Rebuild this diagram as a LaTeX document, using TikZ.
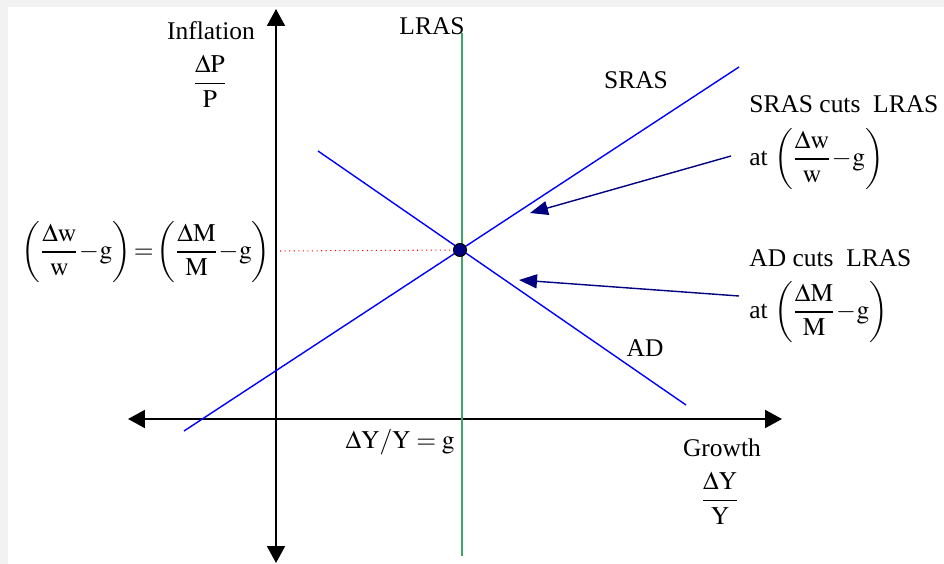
\documentclass[tikz,border=0pt]{standalone}
\usepackage{amsmath}
\usepackage{mathptmx}
\usepackage{fontspec}
\setmainfont{Liberation Serif}
\usepackage{tikz}
\usetikzlibrary{arrows.meta,positioning}
\definecolor{pagegrey}{RGB}{242,242,242}
\definecolor{lrasgreen}{RGB}{60,165,105}
\definecolor{notenavy}{RGB}{0,0,128}
\newcommand{\rate}[2]{\dfrac{\Delta\mathrm{#1}}{\mathrm{#2}}}
\newcommand{\gap}[1]{\left(\rate{#1}{#1}\mkern-2mu-\mkern-2mu\mathrm{g}\right)}

\begin{document}
\begin{tikzpicture}[x=0.02cm, y=-0.02cm,
    lbl/.style={inner sep=0pt, font=\fontsize{14.5}{17}\selectfont},
    axis/.style={line width=1.1pt, {Triangle[length=0.34cm,width=0.36cm]}-{Triangle[length=0.34cm,width=0.36cm]}},
    curve/.style={blue, line width=0.8pt},
    note/.style={notenavy, line width=0.8pt, -{Triangle[length=0.36cm,width=0.28cm]}}]
    \useasboundingbox (0,0) rectangle (944,564);
    \fill[pagegrey] (0,0) rectangle (944,564);
    \fill[white] (8,7) rectangle (944,564);

    % points of the chart
    \coordinate (yax-top) at (276,9);
    \coordinate (yax-bot) at (276,563);
    \coordinate (xax-l) at (128,419);
    \coordinate (xax-r) at (782,419);
    \coordinate (lras-top) at (462,33);
    \coordinate (lras-bot) at (462,556);
    \coordinate (sras-lo) at (184,431);
    \coordinate (sras-hi) at (739,67);
    \coordinate (ad-hi) at (318,151);
    \coordinate (ad-lo) at (686,405);
    \coordinate (eqm) at (460,250);
    \coordinate (eq-end) at (280,251);

    % labels
    \node[lbl] (infl) at (211,31) {Inflation};
    \node[lbl] (inflfrac) at (210,81) {$\rate{P}{P}$};
    \node[lbl, anchor=south] (lras-lbl) at (432,35) {LRAS};
    \node[lbl] (sras-lbl) at (636,80) {SRAS};
    \node[lbl] (ad-lbl) at (645,348) {AD};
    \node[lbl, anchor=west] (sras-note) at (749,104) {SRAS cuts\ \ LRAS};
    \node[lbl, anchor=west] (sras-at) at (749,159) {at $\gap{w}$};
    \node[lbl, anchor=west] (ad-note) at (749,258) {AD cuts\ \ LRAS};
    \node[lbl, anchor=west] (ad-at) at (749,312) {at $\gap{M}$};
    \node[lbl] (growth) at (722,448) {Growth};
    \node[lbl] (growthfrac) at (720,498) {$\rate{Y}{Y}$};
    \node[lbl] (trend-lbl) at (400,442) {$\Delta\mathrm{Y/Y}=\mathrm{g}$};
    \node[lbl] (eq-lbl) at (146,252) {$\gap{w}\mkern-2mu=\mkern-2mu\gap{M}$};

    % axes and curves
    \draw[axis] (yax-bot) -- (yax-top);
    \draw[axis] (xax-l) -- (xax-r);
    \draw[lrasgreen, line width=0.8pt] (lras-bot) -- (lras-top);
    \draw[red, dotted, line width=0.6pt] (eq-end) -- (eqm);
    \draw[curve] (sras-lo) -- (sras-hi);
    \draw[curve] (ad-hi) -- (ad-lo);
    \node[circle, fill=notenavy, draw=black, line width=0.6pt, minimum size=0.26cm, inner sep=0pt] (eqpt) at (eqm) {};

    \draw[note] (sras-at.west) ++(-18,-3) coordinate (sras-from) -- (530,213);
    \draw[note] (ad-at.west) ++(-10,-16) coordinate (ad-from) -- (519,280);
\end{tikzpicture}
\end{document}
